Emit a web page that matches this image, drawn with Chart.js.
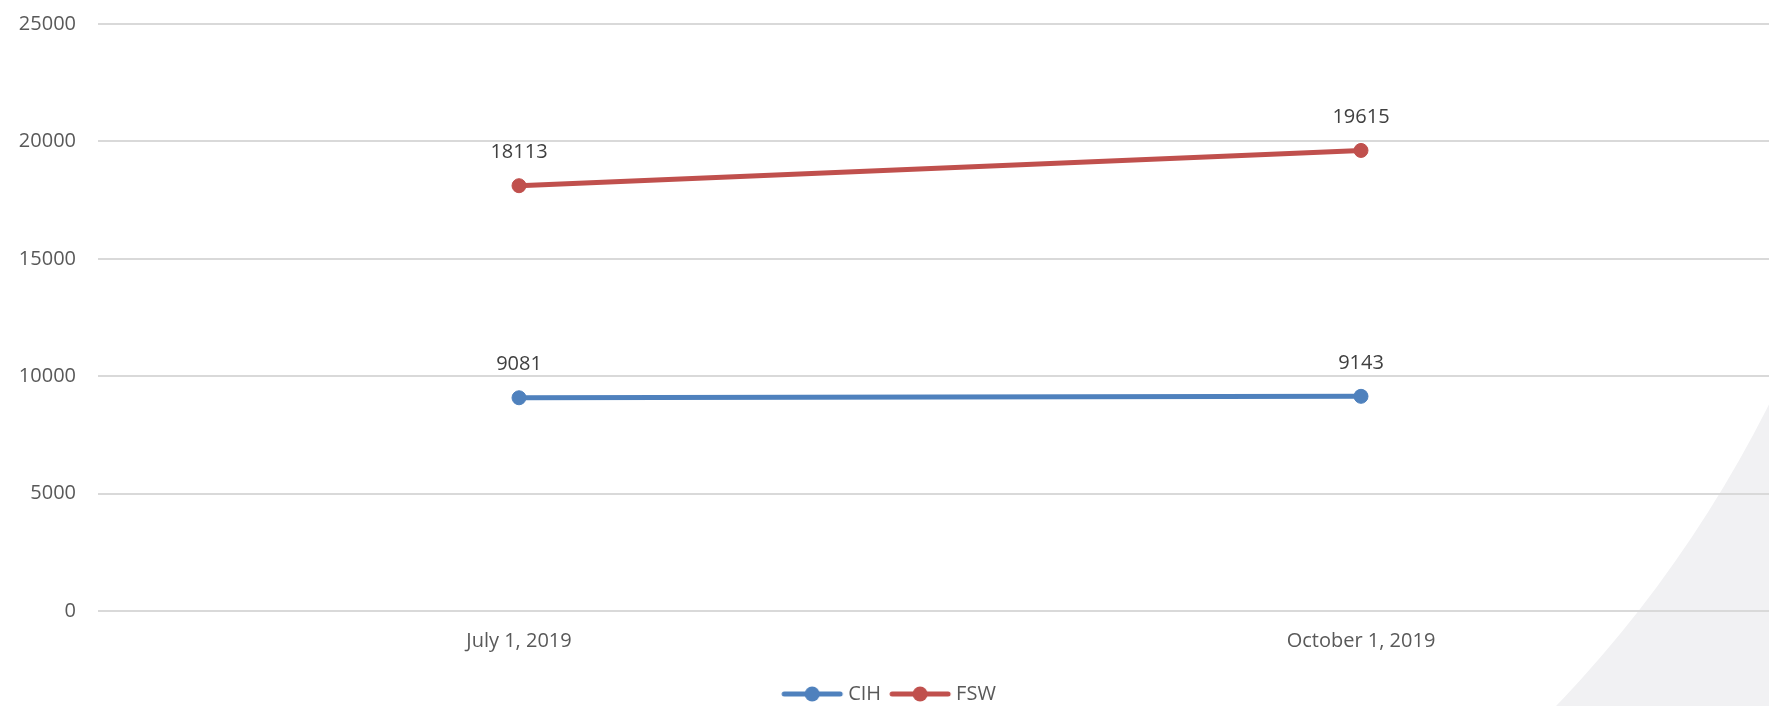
<!DOCTYPE html>
<html>
<head>
<meta charset="utf-8">
<script src="https://cdn.jsdelivr.net/npm/chart.js@4"></script>
<style>
  html, body { margin: 0; padding: 0; background: #fff; overflow: hidden; }
  #wrap { width: 1790px; height: 724px; position: relative; top: -10px; }
</style>
</head>
<body>
<div id="wrap"><canvas id="grafico"></canvas></div>
<script>
const fechas = ["July 1, 2019", "October 1, 2019"];
const cih = [9081, 9143];
const fsw = [18113, 19615];
const ticksY = [0, 5000, 10000, 15000, 20000, 25000];

const AZUL = "#4F81BD";
const ROJO = "#C0504D";
const FUENTE = "'Open Sans', sans-serif";

// icono de leyenda: linea con punto en medio
function iconoLeyenda(color) {
  const c = document.createElement("canvas");
  c.width = 64;
  c.height = 18;
  const g = c.getContext("2d");
  g.strokeStyle = color;
  g.lineWidth = 5;
  g.lineCap = "round";
  g.beginPath();
  g.moveTo(4, 9);
  g.lineTo(60, 9);
  g.stroke();
  g.fillStyle = color;
  g.beginPath();
  g.arc(32, 9, 7.5, 0, Math.PI * 2);
  g.fill();
  return c;
}

// fondo gris curvo de la diapositiva (el canvas sube 10px)
const fondo = {
  id: "fondo",
  beforeDraw(chart) {
    const { ctx, width, height } = chart;
    ctx.save();
    ctx.fillStyle = "#f1f1f3";
    ctx.beginPath();
    ctx.rect(0, 0, width, height);
    ctx.arc(669, -136, 1230, 0, Math.PI * 2, true);
    ctx.fill("evenodd");
    ctx.restore();
  }
};

// etiquetas de valores sobre cada punto
const etiquetas = {
  id: "etiquetas",
  afterDatasetsDraw(chart) {
    const { ctx } = chart;
    ctx.save();
    ctx.font = "20px " + FUENTE;
    ctx.fillStyle = "#404040";
    ctx.textAlign = "center";
    ctx.textBaseline = "middle";
    chart.data.datasets.forEach((ds, i) => {
      chart.getDatasetMeta(i).data.forEach((pt, j) => {
        ctx.fillText(String(ds.data[j]), pt.x, pt.y - 33);
      });
    });
    ctx.restore();
  }
};

const ctx = document.getElementById("grafico").getContext("2d");
new Chart(ctx, {
  type: "line",
  data: {
    labels: fechas,
    datasets: [
      {
        label: "CIH",
        data: cih,
        borderColor: AZUL,
        backgroundColor: AZUL,
        borderWidth: 5,
        pointRadius: 7,
        pointBorderWidth: 1,
        pointStyle: "circle",
        fill: false,
        tension: 0
      },
      {
        label: "FSW",
        data: fsw,
        borderColor: ROJO,
        backgroundColor: ROJO,
        borderWidth: 5,
        pointRadius: 7,
        pointBorderWidth: 1,
        pointStyle: "circle",
        fill: false,
        tension: 0
      }
    ]
  },
  options: {
    responsive: true,
    maintainAspectRatio: false,
    animation: false,
    layout: { padding: { top: 0, right: 8, left: 0, bottom: 0 } },
    plugins: {
      tooltip: { enabled: false },
      legend: {
        position: "bottom",
        labels: {
          usePointStyle: true,
          pointStyleWidth: 52,
          padding: 13,
          color: "#595959",
          font: { family: FUENTE, size: 20 },
          generateLabels(chart) {
            return chart.data.datasets.map((ds, i) => ({
              text: ds.label,
              fontColor: "#595959",
              pointStyle: iconoLeyenda(ds.borderColor),
              datasetIndex: i,
              hidden: false,
              lineWidth: 0
            }));
          }
        }
      }
    },
    scales: {
      x: {
        offset: true,
        grid: { display: false, drawTicks: false },
        border: { display: false },
        ticks: {
          color: "#595959",
          font: { family: FUENTE, size: 20 },
          padding: 18,
          maxRotation: 0
        }
      },
      y: {
        min: 0,
        max: 25000,
        afterBuildTicks(scale) {
          scale.ticks = ticksY.map(v => ({ value: v }));
        },
        afterFit(scale) { scale.width = 98; },
        grid: { color: "#d9d9d9", lineWidth: 2, drawTicks: false },
        border: { display: false },
        ticks: {
          color: "#595959",
          font: { family: FUENTE, size: 20 },
          padding: 22,
          callback: v => String(v)
        }
      }
    }
  },
  plugins: [fondo, etiquetas]
});
</script>
</body>
</html>
